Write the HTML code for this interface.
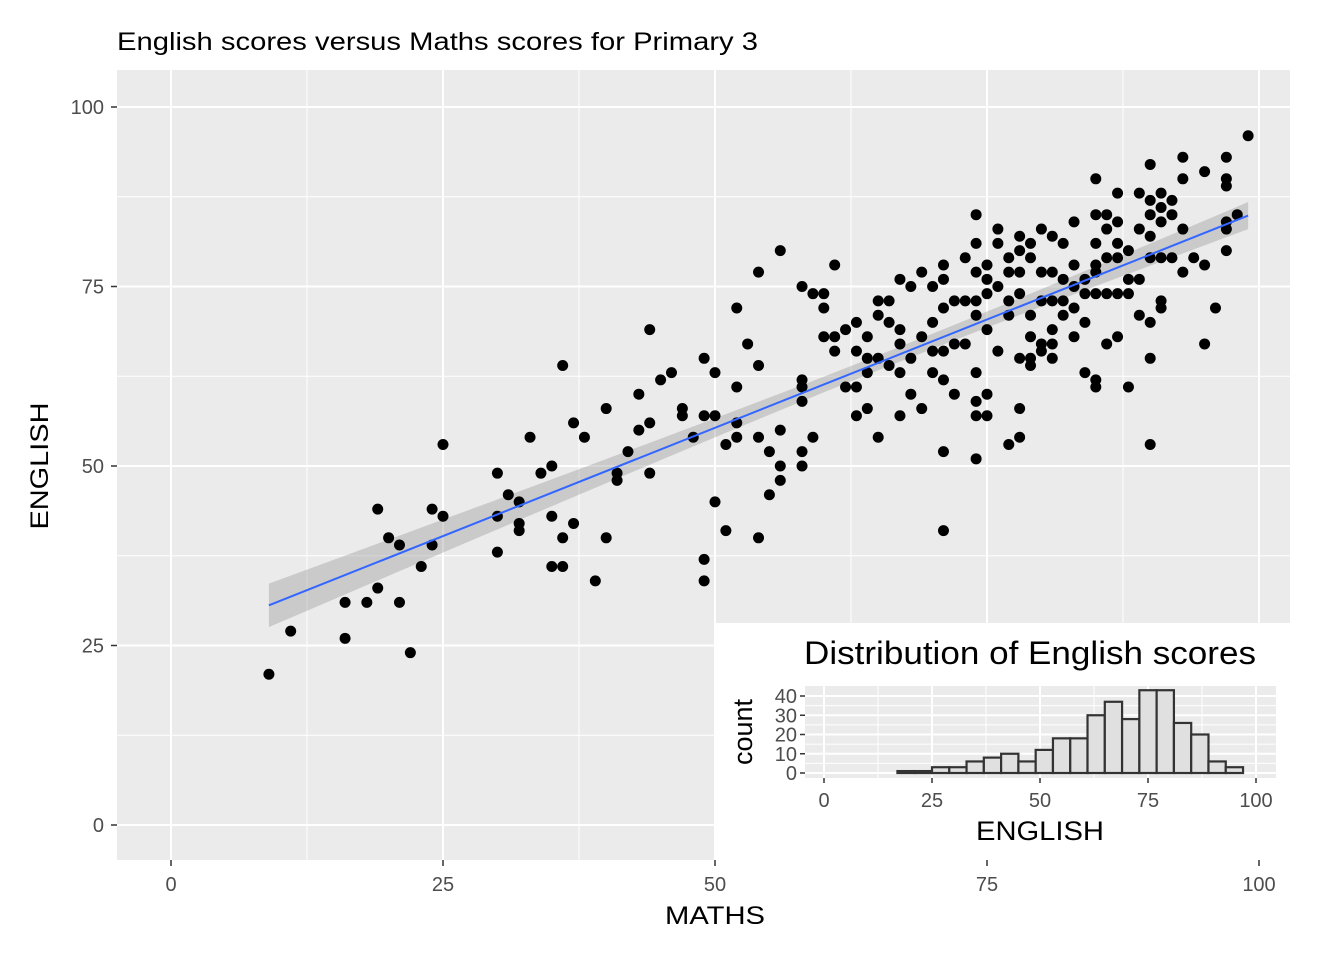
<!DOCTYPE html>
<html><head><meta charset="utf-8"><style>
body{margin:0;background:#fff;font-family:"Liberation Sans",Arial,sans-serif}
svg text{font-family:"Liberation Sans",Arial,sans-serif}
</style></head><body>
<svg id="c" width="1344" height="960" xmlns="http://www.w3.org/2000/svg"></svg>
<script>
const mathsScores=[9,11,16,16,18,19,19,20,21,21,22,23,24,24,25,25,30,30,30,31,32,32,32,33,34,35,35,35,36,36,36,37,37,38,39,40,40,41,41,42,43,43,44,44,44,45,46,47,47,48,49,49,49,49,50,50,50,51,51,52,52,52,52,53,54,54,54,54,55,55,56,56,56,56,58,58,58,58,58,58,59,59,60,60,60,61,61,61,62,62,63,63,63,63,64,64,64,64,65,65,65,65,66,66,66,67,67,67,67,67,68,68,68,69,69,69,70,70,70,70,71,71,71,71,71,71,71,72,72,72,73,73,73,74,74,74,74,74,74,74,74,74,75,75,75,75,75,75,76,76,76,76,77,77,77,77,77,78,78,78,78,78,78,78,79,79,79,79,79,79,80,80,80,80,80,81,81,81,81,81,81,82,82,82,82,83,83,83,83,83,84,84,84,84,85,85,85,85,85,85,85,85,86,86,86,86,86,87,87,87,87,87,87,88,88,88,88,89,89,89,89,90,90,90,90,90,90,90,90,91,91,91,91,91,91,92,92,92,93,93,93,93,94,95,95,95,96,97,97,97,97,97,97,98,99];
const englishScores=[21,27,31,26,31,44,33,40,39,31,24,36,44,39,43,53,49,43,38,46,45,42,41,54,49,50,43,36,64,40,36,56,42,54,34,58,40,49,48,52,60,55,69,56,49,62,63,58,57,54,65,57,37,34,63,57,45,53,41,72,61,56,54,67,77,64,54,40,52,46,50,48,55,80,75,62,61,59,52,50,74,54,74,72,68,78,68,66,69,61,70,66,61,57,68,65,63,58,73,71,65,54,73,70,64,76,69,67,63,57,75,65,60,77,68,58,75,70,66,63,78,76,72,66,62,52,41,73,67,60,79,73,67,85,81,77,73,71,63,59,57,51,78,76,74,69,60,57,83,81,75,66,79,77,73,71,53,82,80,77,74,65,58,54,81,79,71,68,65,64,83,77,73,67,66,82,77,73,69,67,65,81,76,73,71,84,78,75,72,68,76,74,70,63,90,85,81,78,77,74,62,61,85,83,79,74,67,88,84,81,79,74,68,80,76,74,61,88,83,76,71,92,87,85,82,79,70,65,53,88,86,84,79,73,72,87,85,79,93,90,83,77,79,91,78,67,72,93,90,89,84,80,83,85,96];
const xTicks=[0,25,50,75,100], yTicks=[0,25,50,75,100];
const histBinStart=[17,21,25,29,33,37,41,45,49,53,57,61,65,69,73,77,81,85,89,93];
const histCounts=[1,1,3,3,6,8,10,6,12,18,18,30,37,28,43,43,26,20,6,3];
const histXTicks=[0,25,50,75,100], histYTicks=[0,10,20,30,40];
const histBinWidth=4;

const svg=document.getElementById('c');const NS='http://www.w3.org/2000/svg';
function el(t,a,p){const e=document.createElementNS(NS,t);for(const k in a)e.setAttribute(k,a[k]);(p||svg).appendChild(e);return e;}
function tx(s,a,p){const e=el('text',a,p);e.textContent=s;return e;}
const X=v=>171+v*10.88, Y=v=>825-v*7.18;
const bg=el('rect',{x:117,y:70,width:1173,height:790,fill:'#ebebeb'});

for(let i=0;i<4;i++){const m=xTicks[i]+12.5;el('line',{x1:X(m),x2:X(m),y1:70,y2:860,stroke:'#fff','stroke-width':1});const n=yTicks[i]+12.5;el('line',{x1:117,x2:1290,y1:Y(n),y2:Y(n),stroke:'#fff','stroke-width':1});}
xTicks.forEach(v=>{el('line',{x1:X(v),x2:X(v),y1:70,y2:860,stroke:'#fff','stroke-width':2});el('line',{x1:X(v),x2:X(v),y1:860,y2:866,stroke:'#333','stroke-width':1.5});
 const t=tx(v,{x:X(v),y:891,'font-size':20,fill:'#4d4d4d','text-anchor':'middle'});});
yTicks.forEach(v=>{el('line',{x1:117,x2:1290,y1:Y(v),y2:Y(v),stroke:'#fff','stroke-width':2});el('line',{x1:111,x2:117,y1:Y(v),y2:Y(v),stroke:'#333','stroke-width':1.5});
 const t=tx(v,{x:104,y:Y(v)+7,'font-size':20,fill:'#4d4d4d','text-anchor':'end'});});
const n=mathsScores.length;const mx=mathsScores.reduce((a,b)=>a+b)/n,my=englishScores.reduce((a,b)=>a+b)/n;
let sxx=0,sxy=0;for(let i=0;i<n;i++){sxx+=(mathsScores[i]-mx)**2;sxy+=(mathsScores[i]-mx)*(englishScores[i]-my);}
const b=sxy/sxx,a=my-b*mx;let sse=0;for(let i=0;i<n;i++)sse+=(englishScores[i]-a-b*mathsScores[i])**2;const s=Math.sqrt(sse/(n-2));
const x0=Math.min(...mathsScores),x1=Math.max(...mathsScores);let up=[],lo=[];
for(let k=0;k<=40;k++){const xv=x0+(x1-x0)*k/40;const se=1.97*s*Math.sqrt(1/n+(xv-mx)**2/sxx);up.push(X(xv)+','+Y(a+b*xv+se));lo.unshift(X(xv)+','+Y(a+b*xv-se));}
const band=el('polygon',{points:up.concat(lo).join(' '),fill:'#999','fill-opacity':0.4});
mathsScores.forEach((m,i)=>{const c=el('circle',{cx:X(m),cy:Y(englishScores[i]),r:5.5,fill:'#000'});});
const ln=el('line',{x1:X(x0),y1:Y(a+b*x0),x2:X(x1),y2:Y(a+b*x1),stroke:'#3366ff','stroke-width':2});
let t=tx('English scores versus Maths scores for Primary 3',{x:117,y:50,'font-size':25,fill:'#000',textLength:641,lengthAdjust:'spacingAndGlyphs'});
t=tx('MATHS',{x:715,y:924,'font-size':25,fill:'#000','text-anchor':'middle',textLength:100,lengthAdjust:'spacingAndGlyphs'});
t=tx('ENGLISH',{x:48,y:466,'font-size':25,fill:'#000','text-anchor':'middle',transform:'rotate(-90 48 466)',textLength:127,lengthAdjust:'spacingAndGlyphs'});
const ig=el('g',{});
el('rect',{x:715,y:623,width:575,height:237,fill:'#fff'},ig);
const HX=v=>824+v*4.32, HY=v=>773-v*1.925;
el('rect',{x:805,y:686,width:471,height:92,fill:'#ebebeb'},ig);
for(let i=0;i<4;i++){const m=histXTicks[i]+12.5;el('line',{x1:HX(m),x2:HX(m),y1:686,y2:778,stroke:'#fff','stroke-width':1},ig);const q=histYTicks[i]+5;el('line',{x1:805,x2:1276,y1:HY(q),y2:HY(q),stroke:'#fff','stroke-width':1},ig);}
histXTicks.forEach(v=>{el('line',{x1:HX(v),x2:HX(v),y1:686,y2:778,stroke:'#fff','stroke-width':2},ig);el('line',{x1:HX(v),x2:HX(v),y1:778,y2:783,stroke:'#333','stroke-width':1.5},ig);
 const l=tx(v,{x:HX(v),y:807,'font-size':20,fill:'#4d4d4d','text-anchor':'middle'},ig);});
histYTicks.forEach(v=>{el('line',{x1:805,x2:1276,y1:HY(v),y2:HY(v),stroke:'#fff','stroke-width':2},ig);el('line',{x1:800,x2:805,y1:HY(v),y2:HY(v),stroke:'#333','stroke-width':1.5},ig);
 const l=tx(v,{x:797,y:HY(v)+7,'font-size':20,fill:'#4d4d4d','text-anchor':'end'},ig);});
histBinStart.forEach((s0,i)=>{const r=el('rect',{x:HX(s0),y:HY(histCounts[i]),width:HX(s0+histBinWidth)-HX(s0),height:HY(0)-HY(histCounts[i]),fill:'#e0e0e0',stroke:'#333','stroke-width':2.2},ig);});
t=tx('Distribution of English scores',{x:1030,y:664,'font-size':32,fill:'#000','text-anchor':'middle',textLength:452,lengthAdjust:'spacingAndGlyphs'},ig);
t=tx('ENGLISH',{x:1040,y:840,'font-size':27,fill:'#000','text-anchor':'middle',textLength:128,lengthAdjust:'spacingAndGlyphs'},ig);
t=tx('count',{x:752,y:732,'font-size':27,fill:'#000','text-anchor':'middle',transform:'rotate(-90 752 732)'},ig);
</script>
</body></html>
